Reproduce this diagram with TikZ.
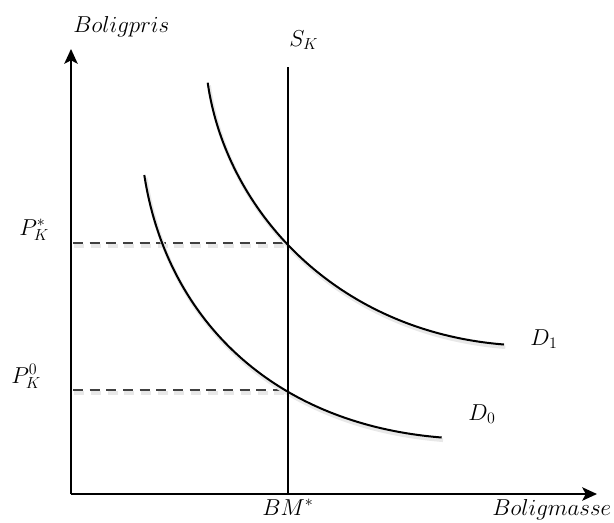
\documentclass[tikz,border=0pt]{standalone}
\usetikzlibrary{arrows.meta}
\begin{document}
\begin{tikzpicture}[x=0.75pt,y=-0.75pt,
  axis/.style={line width=1.5pt,-{Stealth[length=11pt,width=10pt,inset=2.5pt]}},
  curve/.style={line width=1.5pt,
    preaction={draw=black!9,line width=2.8pt,transform canvas={shift={(1pt,-2pt)}}}},
  guide/.style={line width=1.5pt,draw=black!75,dash pattern=on 7.5pt off 5pt,
    preaction={draw=black!9,line width=2.8pt,dash pattern=on 7.5pt off 5pt,transform canvas={shift={(1pt,-2.5pt)}}}},
  lbl/.style={inner sep=0pt,font=\fontsize{18.5}{21}\selectfont,anchor=base west}]
\useasboundingbox (0,0) rectangle (614,522);
% coordinates
\coordinate (O) at (71,494);
\coordinate (ytip) at (71,49);
\coordinate (xtip) at (597,494);
\coordinate (Stop) at (288,67);
\coordinate (Sbot) at (288,494);
\coordinate (Pa) at (73,243);
\coordinate (Pb) at (288,243);
\coordinate (Qa) at (73,390);
\coordinate (Qb) at (288,390);
% dashed guides
\draw[guide] (Pa) -- (Pb);
\draw[guide] (Qa) -- (Qb);
% demand curves
\draw[curve] (207.7,82.7) .. controls (225.7,208.7) and (334,330.9) .. (504,344.5);
\draw[curve] (144.3,175) .. controls (166.3,318) and (271.7,423.9) .. (441.7,437.5);
% supply
\draw[line width=1.5pt] (Stop) -- (Sbot);
% axes
\draw[axis] (O) -- (ytip);
\draw[axis] (O) -- (xtip);
% labels
\node[lbl] (ylab) at (73,32) {$Boligpris$};
\node[lbl] (xlab) at (492,515) {$Boligmasse$};
\node[lbl] (sk) at (289,46) {$S_K$};
\node[lbl] (pks) at (19,235) {$P_K^*$};
\node[lbl] (pk0) at (11,383) {$P_K^0$};
\node[lbl] (d1) at (530,345) {$D_1$};
\node[lbl] (d0) at (468,420) {$D_0$};
\node[lbl] (bm) at (262,515) {$BM^*$};
\end{tikzpicture}
\end{document}
